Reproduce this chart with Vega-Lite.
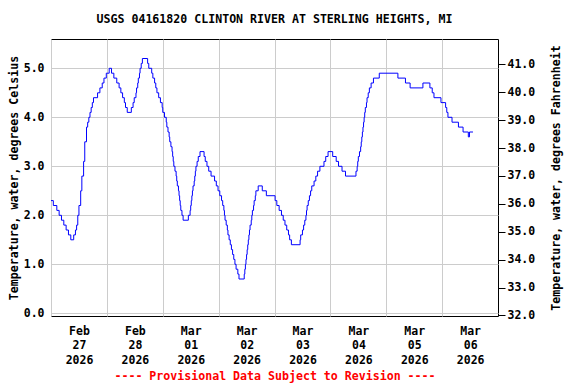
{
  "$schema": "https://vega.github.io/schema/vega-lite/v6.json",
  "width": 447,
  "height": 277,
  "autosize": {"type": "none"},
  "padding": {"left": 51, "top": 39, "right": 78, "bottom": 68},
  "background": "white",
  "title": {"text": "USGS 04161820 CLINTON RIVER AT STERLING HEIGHTS, MI", "font": "DejaVu Sans Mono", "fontSize": 11.6, "fontWeight": "bold", "color": "black", "anchor": "middle", "baseline": "alphabetic", "offset": 4},
  "config": {
    "view": {"stroke": "black", "strokeWidth": 1},
    "axis": {"labelFont": "DejaVu Sans Mono", "labelFontWeight": "bold", "labelFontSize": 11.5, "labelColor": "black", "titleFont": "DejaVu Sans Mono", "titleFontWeight": "bold", "titleFontSize": 11.6, "titleColor": "black", "gridColor": "#cccccc", "gridWidth": 1, "gridOpacity": 1, "domain": false}
  },
  "data": {"values": [
    {"t": "2026-02-27T00:00", "c": 2.3}, {"t": "2026-02-27T01:00", "c": 2.2}, {"t": "2026-02-27T02:30", "c": 2.1}, {"t": "2026-02-27T03:30", "c": 2.0}, {"t": "2026-02-27T04:30", "c": 1.9}, {"t": "2026-02-27T05:30", "c": 1.8}, {"t": "2026-02-27T06:30", "c": 1.7}, {"t": "2026-02-27T07:30", "c": 1.6}, {"t": "2026-02-27T08:30", "c": 1.5}, {"t": "2026-02-27T09:45", "c": 1.6}, {"t": "2026-02-27T10:30", "c": 1.7}, {"t": "2026-02-27T11:00", "c": 1.8}, {"t": "2026-02-27T11:30", "c": 2.0}, {"t": "2026-02-27T12:00", "c": 2.2}, {"t": "2026-02-27T12:45", "c": 2.5}, {"t": "2026-02-27T13:15", "c": 2.8}, {"t": "2026-02-27T14:00", "c": 3.1}, {"t": "2026-02-27T14:30", "c": 3.5}, {"t": "2026-02-27T15:15", "c": 3.8}, {"t": "2026-02-27T15:45", "c": 3.9}, {"t": "2026-02-27T16:15", "c": 4.0}, {"t": "2026-02-27T16:45", "c": 4.1}, {"t": "2026-02-27T17:15", "c": 4.2}, {"t": "2026-02-27T17:45", "c": 4.3}, {"t": "2026-02-27T18:15", "c": 4.4}, {"t": "2026-02-27T20:00", "c": 4.5}, {"t": "2026-02-27T21:00", "c": 4.6}, {"t": "2026-02-27T22:00", "c": 4.7}, {"t": "2026-02-27T22:45", "c": 4.8}, {"t": "2026-02-27T23:45", "c": 4.9},
    {"t": "2026-02-28T01:00", "c": 5.0}, {"t": "2026-02-28T02:00", "c": 4.9}, {"t": "2026-02-28T03:00", "c": 4.8}, {"t": "2026-02-28T04:15", "c": 4.7}, {"t": "2026-02-28T05:15", "c": 4.6}, {"t": "2026-02-28T06:00", "c": 4.5}, {"t": "2026-02-28T06:45", "c": 4.4}, {"t": "2026-02-28T07:30", "c": 4.3}, {"t": "2026-02-28T08:00", "c": 4.2}, {"t": "2026-02-28T08:45", "c": 4.1}, {"t": "2026-02-28T10:30", "c": 4.2}, {"t": "2026-02-28T11:15", "c": 4.3}, {"t": "2026-02-28T11:45", "c": 4.4}, {"t": "2026-02-28T12:30", "c": 4.5}, {"t": "2026-02-28T12:45", "c": 4.6}, {"t": "2026-02-28T13:15", "c": 4.7}, {"t": "2026-02-28T13:30", "c": 4.8}, {"t": "2026-02-28T14:00", "c": 4.9}, {"t": "2026-02-28T14:15", "c": 5.0}, {"t": "2026-02-28T14:45", "c": 5.1}, {"t": "2026-02-28T15:15", "c": 5.2}, {"t": "2026-02-28T17:30", "c": 5.1}, {"t": "2026-02-28T18:00", "c": 5.0}, {"t": "2026-02-28T19:15", "c": 4.9}, {"t": "2026-02-28T19:45", "c": 4.8}, {"t": "2026-02-28T20:30", "c": 4.7}, {"t": "2026-02-28T21:00", "c": 4.6}, {"t": "2026-02-28T21:30", "c": 4.5}, {"t": "2026-02-28T22:15", "c": 4.4}, {"t": "2026-02-28T23:00", "c": 4.3}, {"t": "2026-02-28T23:45", "c": 4.2},
    {"t": "2026-03-01T00:00", "c": 4.1}, {"t": "2026-03-01T00:45", "c": 4.0}, {"t": "2026-03-01T01:30", "c": 3.9}, {"t": "2026-03-01T01:45", "c": 3.8}, {"t": "2026-03-01T02:15", "c": 3.7}, {"t": "2026-03-01T02:45", "c": 3.6}, {"t": "2026-03-01T03:00", "c": 3.5}, {"t": "2026-03-01T03:30", "c": 3.4}, {"t": "2026-03-01T04:00", "c": 3.3}, {"t": "2026-03-01T04:15", "c": 3.2}, {"t": "2026-03-01T04:30", "c": 3.1}, {"t": "2026-03-01T04:45", "c": 3.0}, {"t": "2026-03-01T05:15", "c": 2.9}, {"t": "2026-03-01T05:45", "c": 2.8}, {"t": "2026-03-01T06:00", "c": 2.7}, {"t": "2026-03-01T06:15", "c": 2.6}, {"t": "2026-03-01T06:45", "c": 2.5}, {"t": "2026-03-01T07:00", "c": 2.4}, {"t": "2026-03-01T07:15", "c": 2.3}, {"t": "2026-03-01T07:30", "c": 2.2}, {"t": "2026-03-01T07:45", "c": 2.1}, {"t": "2026-03-01T08:15", "c": 2.0}, {"t": "2026-03-01T08:45", "c": 1.9}, {"t": "2026-03-01T11:00", "c": 2.0}, {"t": "2026-03-01T11:45", "c": 2.1}, {"t": "2026-03-01T12:00", "c": 2.2}, {"t": "2026-03-01T12:15", "c": 2.3}, {"t": "2026-03-01T12:30", "c": 2.4}, {"t": "2026-03-01T12:45", "c": 2.5}, {"t": "2026-03-01T13:00", "c": 2.6}, {"t": "2026-03-01T13:30", "c": 2.7}, {"t": "2026-03-01T13:45", "c": 2.8}, {"t": "2026-03-01T14:00", "c": 2.9}, {"t": "2026-03-01T14:15", "c": 3.0}, {"t": "2026-03-01T14:45", "c": 3.1}, {"t": "2026-03-01T15:15", "c": 3.2}, {"t": "2026-03-01T16:00", "c": 3.3}, {"t": "2026-03-01T17:45", "c": 3.2}, {"t": "2026-03-01T18:15", "c": 3.1}, {"t": "2026-03-01T19:00", "c": 3.0}, {"t": "2026-03-01T19:45", "c": 2.9}, {"t": "2026-03-01T20:45", "c": 2.8}, {"t": "2026-03-01T22:15", "c": 2.7}, {"t": "2026-03-01T23:00", "c": 2.6}, {"t": "2026-03-01T23:45", "c": 2.5},
    {"t": "2026-03-02T00:30", "c": 2.4}, {"t": "2026-03-02T01:15", "c": 2.3}, {"t": "2026-03-02T01:45", "c": 2.2}, {"t": "2026-03-02T02:15", "c": 2.1}, {"t": "2026-03-02T02:30", "c": 2.0}, {"t": "2026-03-02T02:45", "c": 1.9}, {"t": "2026-03-02T03:15", "c": 1.8}, {"t": "2026-03-02T03:45", "c": 1.7}, {"t": "2026-03-02T04:00", "c": 1.6}, {"t": "2026-03-02T04:30", "c": 1.5}, {"t": "2026-03-02T05:00", "c": 1.4}, {"t": "2026-03-02T05:30", "c": 1.3}, {"t": "2026-03-02T06:00", "c": 1.2}, {"t": "2026-03-02T06:30", "c": 1.1}, {"t": "2026-03-02T07:00", "c": 1.0}, {"t": "2026-03-02T07:30", "c": 0.9}, {"t": "2026-03-02T08:15", "c": 0.8}, {"t": "2026-03-02T08:45", "c": 0.7}, {"t": "2026-03-02T11:00", "c": 0.8}, {"t": "2026-03-02T11:15", "c": 0.9}, {"t": "2026-03-02T11:30", "c": 1.0}, {"t": "2026-03-02T11:45", "c": 1.1}, {"t": "2026-03-02T12:00", "c": 1.2}, {"t": "2026-03-02T12:15", "c": 1.3}, {"t": "2026-03-02T12:30", "c": 1.4}, {"t": "2026-03-02T12:45", "c": 1.5}, {"t": "2026-03-02T13:00", "c": 1.6}, {"t": "2026-03-02T13:15", "c": 1.7}, {"t": "2026-03-02T13:30", "c": 1.8}, {"t": "2026-03-02T14:00", "c": 1.9}, {"t": "2026-03-02T14:15", "c": 2.0}, {"t": "2026-03-02T14:30", "c": 2.1}, {"t": "2026-03-02T15:00", "c": 2.2}, {"t": "2026-03-02T15:15", "c": 2.3}, {"t": "2026-03-02T15:45", "c": 2.4}, {"t": "2026-03-02T16:00", "c": 2.5}, {"t": "2026-03-02T17:00", "c": 2.6}, {"t": "2026-03-02T18:45", "c": 2.5}, {"t": "2026-03-02T20:30", "c": 2.4},
    {"t": "2026-03-03T00:15", "c": 2.3}, {"t": "2026-03-03T01:00", "c": 2.2}, {"t": "2026-03-03T02:00", "c": 2.1}, {"t": "2026-03-03T03:00", "c": 2.0}, {"t": "2026-03-03T03:45", "c": 1.9}, {"t": "2026-03-03T04:30", "c": 1.8}, {"t": "2026-03-03T05:15", "c": 1.7}, {"t": "2026-03-03T06:00", "c": 1.6}, {"t": "2026-03-03T06:30", "c": 1.5}, {"t": "2026-03-03T07:15", "c": 1.4}, {"t": "2026-03-03T11:00", "c": 1.5}, {"t": "2026-03-03T11:15", "c": 1.6}, {"t": "2026-03-03T12:00", "c": 1.7}, {"t": "2026-03-03T12:30", "c": 1.8}, {"t": "2026-03-03T13:00", "c": 1.9}, {"t": "2026-03-03T13:30", "c": 2.0}, {"t": "2026-03-03T13:45", "c": 2.1}, {"t": "2026-03-03T14:00", "c": 2.2}, {"t": "2026-03-03T14:30", "c": 2.3}, {"t": "2026-03-03T15:00", "c": 2.4}, {"t": "2026-03-03T15:30", "c": 2.5}, {"t": "2026-03-03T16:00", "c": 2.6}, {"t": "2026-03-03T17:00", "c": 2.7}, {"t": "2026-03-03T17:45", "c": 2.8}, {"t": "2026-03-03T18:30", "c": 2.9}, {"t": "2026-03-03T19:30", "c": 3.0}, {"t": "2026-03-03T21:15", "c": 3.1}, {"t": "2026-03-03T22:00", "c": 3.2}, {"t": "2026-03-03T23:00", "c": 3.3},
    {"t": "2026-03-04T01:00", "c": 3.2}, {"t": "2026-03-04T02:30", "c": 3.1}, {"t": "2026-03-04T03:30", "c": 3.0}, {"t": "2026-03-04T05:00", "c": 2.9}, {"t": "2026-03-04T06:30", "c": 2.8}, {"t": "2026-03-04T11:00", "c": 2.9}, {"t": "2026-03-04T11:30", "c": 3.0}, {"t": "2026-03-04T11:45", "c": 3.1}, {"t": "2026-03-04T12:00", "c": 3.2}, {"t": "2026-03-04T12:30", "c": 3.3}, {"t": "2026-03-04T13:00", "c": 3.4}, {"t": "2026-03-04T13:15", "c": 3.5}, {"t": "2026-03-04T13:30", "c": 3.6}, {"t": "2026-03-04T13:45", "c": 3.7}, {"t": "2026-03-04T14:00", "c": 3.8}, {"t": "2026-03-04T14:15", "c": 3.9}, {"t": "2026-03-04T14:30", "c": 4.0}, {"t": "2026-03-04T14:45", "c": 4.1}, {"t": "2026-03-04T15:00", "c": 4.2}, {"t": "2026-03-04T15:30", "c": 4.3}, {"t": "2026-03-04T15:45", "c": 4.4}, {"t": "2026-03-04T16:15", "c": 4.5}, {"t": "2026-03-04T16:45", "c": 4.6}, {"t": "2026-03-04T17:30", "c": 4.7}, {"t": "2026-03-04T18:30", "c": 4.8}, {"t": "2026-03-04T21:00", "c": 4.9},
    {"t": "2026-03-05T05:00", "c": 4.8}, {"t": "2026-03-05T08:15", "c": 4.7}, {"t": "2026-03-05T10:15", "c": 4.6}, {"t": "2026-03-05T15:45", "c": 4.7}, {"t": "2026-03-05T18:45", "c": 4.6}, {"t": "2026-03-05T19:45", "c": 4.5}, {"t": "2026-03-05T20:30", "c": 4.4}, {"t": "2026-03-05T23:30", "c": 4.3},
    {"t": "2026-03-06T01:30", "c": 4.2}, {"t": "2026-03-06T02:00", "c": 4.1}, {"t": "2026-03-06T02:30", "c": 4.0}, {"t": "2026-03-06T04:15", "c": 3.9}, {"t": "2026-03-06T07:00", "c": 3.8}, {"t": "2026-03-06T09:00", "c": 3.7}, {"t": "2026-03-06T11:15", "c": 3.6}, {"t": "2026-03-06T11:45", "c": 3.7}, {"t": "2026-03-06T13:15", "c": 3.7}
  ]},
  "layer": [
    {
      "mark": {"type": "line", "interpolate": "step-after", "color": "#0000ff", "strokeWidth": 1},
      "encoding": {
        "x": {"field": "t", "type": "temporal",
          "scale": {"domain": [{"year": 2026, "month": 2, "date": 27}, {"year": 2026, "month": 3, "date": 7}]},
          "axis": {"values": [{"year": 2026, "month": 2, "date": 27}, {"year": 2026, "month": 2, "date": 28}, {"year": 2026, "month": 3, "date": 1}, {"year": 2026, "month": 3, "date": 2}, {"year": 2026, "month": 3, "date": 3}, {"year": 2026, "month": 3, "date": 4}, {"year": 2026, "month": 3, "date": 5}, {"year": 2026, "month": 3, "date": 6}],
            "labelExpr": "[timeFormat(datum.value, '%b'), timeFormat(datum.value, '%d'), timeFormat(datum.value, '%Y')]",
            "labelOffset": 28, "labelFlush": false, "labelOverlap": false, "labelBound": false, "labelLineHeight": 14.5, "labelPadding": 9, "ticks": false, "grid": true,
            "title": "---- Provisional Data Subject to Revision ----", "titleColor": "#ff0000", "titlePadding": 5}
        },
        "y": {"field": "c", "type": "quantitative",
          "scale": {"domain": [-0.055, 5.598], "nice": false, "zero": false},
          "axis": {"orient": "left", "values": [0, 1, 2, 3, 4, 5], "format": ".1f", "ticks": false, "labelPadding": 7, "grid": true, "title": "Temperature, water, degrees Celsius", "titlePadding": 4}
        }
      }
    },
    {
      "mark": {"type": "rule", "opacity": 0},
      "encoding": {
        "y": {"datum": 32, "type": "quantitative",
          "scale": {"domain": [31.98, 41.91], "nice": false, "zero": false},
          "axis": {"orient": "right", "values": [32, 33, 34, 35, 36, 37, 38, 39, 40, 41], "format": ".1f", "ticks": true, "tickSize": 7, "tickColor": "black", "labelPadding": 2, "grid": false, "title": "Temperature, water, degrees Fahrenheit", "titleAngle": -90, "titleBaseline": "top", "titlePadding": 16}
        }
      }
    }
  ],
  "resolve": {"scale": {"y": "independent"}}
}
